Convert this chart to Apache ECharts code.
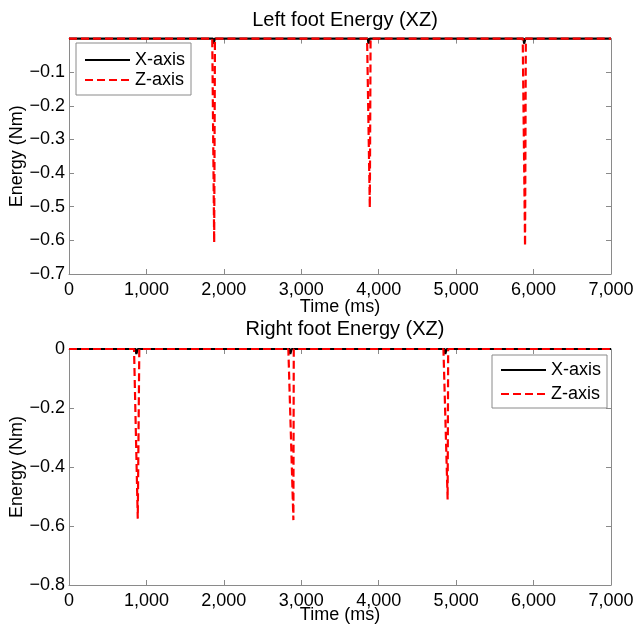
<!DOCTYPE html>
<html>
<head>
<meta charset="utf-8">
<script src="https://cdn.jsdelivr.net/npm/echarts@6/dist/echarts.min.js"></script>
<style>
  html, body { margin: 0; padding: 0; background: #fff; }
  #chart { width: 633px; height: 629px; }
</style>
</head>
<body>
<div id="chart"></div>
<script>
// Left foot energy samples (time in ms, energy in Nm)
const leftTimeX = [0, 1860, 1868, 1876, 1884, 3860, 3868, 3876, 3884, 5870, 5878, 5886, 5894, 7000];
const leftX     = [0, 0, -0.015, -0.01, 0, 0, -0.015, -0.01, 0, 0, -0.015, -0.01, 0, 0];
const leftTimeZ = [0, 1850, 1875, 1885, 3850, 3885, 3895, 5860, 5890, 5900, 7000];
const leftZ     = [0, 0, -0.607, 0, 0, -0.503, 0, 0, -0.617, 0, 0];

// Right foot energy samples
const rightTimeX = [0, 860, 870, 878, 888, 2850, 2858, 2866, 2876, 4850, 4860, 4868, 4878, 7000];
const rightX     = [0, 0, -0.017, -0.012, 0, 0, -0.017, -0.012, 0, 0, -0.017, -0.012, 0, 0];
const rightTimeZ = [0, 840, 888, 908, 2833, 2898, 2903, 4836, 4890, 4897, 7000];
const rightZ     = [0, 0, -0.575, 0, 0, -0.58, 0, 0, -0.51, 0, 0];

// Axis settings
const xTicks = { min: 0, max: 7000, interval: 1000 };
const leftY  = { min: -0.7, max: 0, interval: 0.1 };
const rightY = { min: -0.8, max: 0, interval: 0.2 };
const titles = ['Left foot Energy (XZ)', 'Right foot Energy (XZ)'];
const seriesNames = ['X-axis', 'Z-axis'];

const FONT = '"Liberation Sans", Arial, sans-serif';
const AXIS_GRAY = '#8a8a8a';

const pairs = (t, v) => t.map((x, i) => [x, v[i]]);
const fmtX = v => v === 0 ? '0' : v.toLocaleString('en-US');
const fmtY = v => {
  const r = Math.round(v * 10) / 10;
  if (r === 0) return '0';
  return (r < 0 ? '\u2212' : '') + Math.abs(r).toString();
};

function xAxes(gridIndex, nameGap) {
  const base = {
    type: 'value', gridIndex, min: xTicks.min, max: xTicks.max, interval: xTicks.interval,
    axisLine: { show: true, onZero: false, lineStyle: { color: AXIS_GRAY, width: 1 } },
    axisTick: { show: true, inside: true, length: 5, lineStyle: { color: AXIS_GRAY } },
    splitLine: { show: false }
  };
  return [
    Object.assign({}, base, {
      position: 'bottom',
      name: 'Time (ms)', nameLocation: 'middle', nameGap, nameMoveOverlap: false,
      nameTextStyle: { fontFamily: FONT, fontSize: 18, color: '#000' },
      axisLabel: { formatter: fmtX, fontFamily: FONT, fontSize: 18, color: '#000', margin: 7 }
    }),
    Object.assign({}, base, { position: 'top', axisLabel: { show: false } })
  ];
}

function yAxes(gridIndex, cfg, hideZero) {
  const base = {
    type: 'value', gridIndex, min: cfg.min, max: cfg.max, interval: cfg.interval,
    axisLine: { show: true, onZero: false, lineStyle: { color: AXIS_GRAY, width: 1 } },
    axisTick: { show: true, inside: true, length: 5, lineStyle: { color: AXIS_GRAY } },
    splitLine: { show: false }
  };
  return [
    Object.assign({}, base, {
      position: 'left',
      name: 'Energy (Nm)', nameLocation: 'middle', nameGap: 43, nameRotate: 90,
      nameMoveOverlap: false,
      nameTextStyle: { fontFamily: FONT, fontSize: 18, color: '#000' },
      axisLabel: {
        formatter: v => (hideZero && Math.abs(v) < 1e-9) ? '' : fmtY(v),
        fontFamily: FONT, fontSize: 18, color: '#000', margin: 4
      }
    }),
    Object.assign({}, base, { position: 'right', axisLabel: { show: false } })
  ];
}

function lineSeries(name, data, xi, yi, isZ) {
  return {
    name, type: 'line', data, xAxisIndex: xi, yAxisIndex: yi,
    showSymbol: false, symbol: 'none', animation: false, clip: false,
    lineStyle: isZ
      ? { color: '#ff0000', width: 2.2, type: [8, 4] }
      : { color: '#000000', width: 2.2, type: 'solid' },
    itemStyle: { color: isZ ? '#ff0000' : '#000000' },
    z: isZ ? 3 : 2
  };
}

const legendBase = {
  orient: 'vertical',
  backgroundColor: '#fff',
  borderColor: AXIS_GRAY, borderWidth: 1, borderRadius: 0,
  itemWidth: 45, itemHeight: 14, itemGap: 2,
  itemStyle: { opacity: 0 },
  textStyle: { fontFamily: FONT, fontSize: 18, color: '#000' },
  data: seriesNames
};

const titleStyle = { fontFamily: FONT, fontSize: 20, fontWeight: 'normal', color: '#000' };

const option = {
  backgroundColor: '#fff',
  animation: false,
  title: [
    { text: titles[0], left: 340, top: 5, textAlign: 'center', textStyle: titleStyle },
    { text: titles[1], left: 340, top: 314, textAlign: 'center', textStyle: titleStyle }
  ],
  grid: [
    { left: 69, right: 22, top: 38.6, height: 235.4, containLabel: false, outerBoundsMode: 'none' },
    { left: 69, right: 22, top: 349, height: 236, containLabel: false, outerBoundsMode: 'none' }
  ],
  xAxis: [...xAxes(0, 24), ...xAxes(1, 21)],
  yAxis: [...yAxes(0, leftY, true), ...yAxes(1, rightY, false)],
  legend: [
    Object.assign({}, legendBase, { left: 76, top: 43, padding: [8, 6, 6, 8] }),
    Object.assign({}, legendBase, { left: 492, top: 355, padding: [6, 6, 5, 8], itemGap: 6 })
  ],
  series: [
    lineSeries(seriesNames[0], pairs(leftTimeX, leftX), 0, 0, false),
    lineSeries(seriesNames[1], pairs(leftTimeZ, leftZ), 0, 0, true),
    lineSeries(seriesNames[0], pairs(rightTimeX, rightX), 2, 2, false),
    lineSeries(seriesNames[1], pairs(rightTimeZ, rightZ), 2, 2, true)
  ]
};

const chart = echarts.init(document.getElementById('chart'), null, { renderer: 'canvas' });
chart.setOption(option);
</script>
</body>
</html>
